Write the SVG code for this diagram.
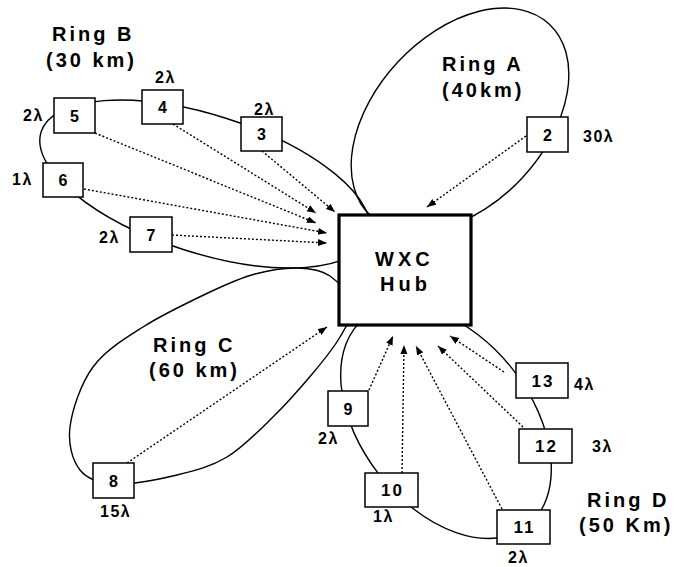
<svg xmlns="http://www.w3.org/2000/svg" width="674" height="567" viewBox="0 0 674 567">
<defs>
<marker id="ah" markerUnits="userSpaceOnUse" markerWidth="10" markerHeight="8" refX="9" refY="3.5" orient="auto">
<path d="M0,0 L9,3.5 L0,7 z" fill="#000"/>
</marker>
<style>
.ring{fill:none;stroke:#000;stroke-width:1.4}
.node rect{fill:#fff;stroke:#000;stroke-width:1.5}
.num{font-family:"Liberation Sans",Arial,sans-serif;font-weight:bold;font-size:16px;text-anchor:middle}
.num2{font-family:"Liberation Sans",Arial,sans-serif;font-weight:bold;font-size:17px;text-anchor:middle;letter-spacing:2px}
.lam{font-family:"Liberation Sans",Arial,sans-serif;font-weight:bold;font-size:16px;letter-spacing:1.5px}
.lbl{font-family:"Liberation Sans",Arial,sans-serif;font-weight:bold;font-size:20px;letter-spacing:3px}
.hubt{font-family:"Liberation Sans",Arial,sans-serif;font-weight:bold;font-size:20px;letter-spacing:4px}
.conn line{stroke:#000;stroke-width:1.4;stroke-dasharray:2 2;marker-end:url(#ah)}
</style>
</defs>
<rect width="674" height="567" fill="#fff"/>
<g id="rings">
<ellipse id="ringA" class="ring" cx="460" cy="120" rx="131" ry="85" transform="rotate(-47 460 120)"/>
<ellipse id="ringB" class="ring" cx="205" cy="184" rx="172" ry="69" transform="rotate(17.65 205 184)"/>
<path id="ringC" class="ring" d="M352,305 C350.33,294.83 339,282.17 330,276 C321,269.83 310.5,268.33 298,268 C285.5,267.67 269.67,270 255,274 C240.33,278 228.67,283.17 210,292 C191.33,300.83 162.5,314.5 143,327 C123.5,339.5 105.17,350.33 93,367 C80.83,383.67 72.17,409.83 70,427 C67.83,444.17 72.5,460.5 80,470 C87.5,479.5 98.83,483.17 115,484 C131.17,484.83 158.33,479.5 177,475 C195.67,470.5 211,466.67 227,457 C243,447.33 258.67,431 273,417 C287.33,403 301.83,386.33 313,373 C324.17,359.67 333.5,348.33 340,337 C346.5,325.67 353.67,315.17 352,305 Z"/>
<ellipse id="ringD" class="ring" cx="446" cy="422" rx="132" ry="85" transform="rotate(52 446 422)"/>
</g>
<g id="ring-labels">
<text class="lbl" x="442" y="71">Ring A</text>
<text class="lbl" x="442" y="97">(40km)</text>
<text class="lbl" x="52" y="41">Ring B</text>
<text class="lbl" x="46" y="67">(30 km)</text>
<text class="lbl" x="153" y="352">Ring C</text>
<text class="lbl" x="149" y="377">(60 km)</text>
<text class="lbl" x="587" y="507">Ring D</text>
<text class="lbl" x="579" y="532">(50 Km)</text>
</g>
<g id="hub">
<rect x="339" y="215" width="132" height="110" fill="#fff" stroke="#000" stroke-width="3.2"/>
<text class="hubt" x="375" y="266">WXC</text>
<text class="hubt" x="380" y="291">Hub</text>
</g>
<g id="connectors" class="conn">
<line x1="526" y1="136" x2="427" y2="207"/>
<line x1="173" y1="124" x2="316" y2="213"/>
<line x1="262" y1="151" x2="335" y2="212"/>
<line x1="95" y1="133" x2="316" y2="223"/>
<line x1="84" y1="189" x2="327" y2="233"/>
<line x1="172" y1="235" x2="327" y2="243"/>
<line x1="127" y1="463" x2="327" y2="327"/>
<line x1="369" y1="390" x2="393" y2="336"/>
<line x1="402" y1="473" x2="404" y2="345"/>
<line x1="502" y1="509" x2="416" y2="346"/>
<line x1="523" y1="427" x2="438" y2="346"/>
<line x1="504" y1="372" x2="450" y2="336"/>
</g>
<g id="node2" class="node"><rect x="527" y="117" width="41" height="35"/><text class="num" x="547.5" y="140.5">2</text><text class="lam" x="583" y="142">30λ</text></g>
<g id="node3" class="node"><rect x="241" y="117" width="41" height="34"/><text class="num" x="261.5" y="139.5">3</text><text class="lam" x="254" y="115">2λ</text></g>
<g id="node4" class="node"><rect x="142" y="90" width="41" height="34"/><text class="num" x="162.5" y="112.5">4</text><text class="lam" x="155" y="83">2λ</text></g>
<g id="node5" class="node"><rect x="54" y="98" width="41" height="35"/><text class="num" x="74.5" y="121.5">5</text><text class="lam" x="23" y="121">2λ</text></g>
<g id="node6" class="node"><rect x="43" y="163" width="40" height="34"/><text class="num" x="63" y="185.5">6</text><text class="lam" x="12" y="185">1λ</text></g>
<g id="node7" class="node"><rect x="130" y="217" width="42" height="35"/><text class="num" x="151" y="240.5">7</text><text class="lam" x="99" y="243">2λ</text></g>
<g id="node8" class="node"><rect x="93" y="463" width="41" height="35"/><text class="num" x="113.5" y="486.5">8</text><text class="lam" x="100" y="517">15λ</text></g>
<g id="node9" class="node"><rect x="328" y="391" width="40" height="35"/><text class="num" x="348" y="414.5">9</text><text class="lam" x="318" y="444">2λ</text></g>
<g id="node10" class="node"><rect x="365" y="473" width="53" height="34"/><text class="num2" x="392.5" y="496">10</text><text class="lam" x="373" y="522">1λ</text></g>
<g id="node11" class="node"><rect x="497" y="510" width="53" height="34"/><text class="num2" x="524.5" y="533">11</text><text class="lam" x="508" y="563">2λ</text></g>
<g id="node12" class="node"><rect x="519" y="429" width="53" height="34"/><text class="num2" x="546.5" y="452">12</text><text class="lam" x="592" y="452">3λ</text></g>
<g id="node13" class="node"><rect x="516" y="363" width="52" height="35"/><text class="num2" x="543" y="386.5">13</text><text class="lam" x="574" y="390">4λ</text></g>
</svg>
